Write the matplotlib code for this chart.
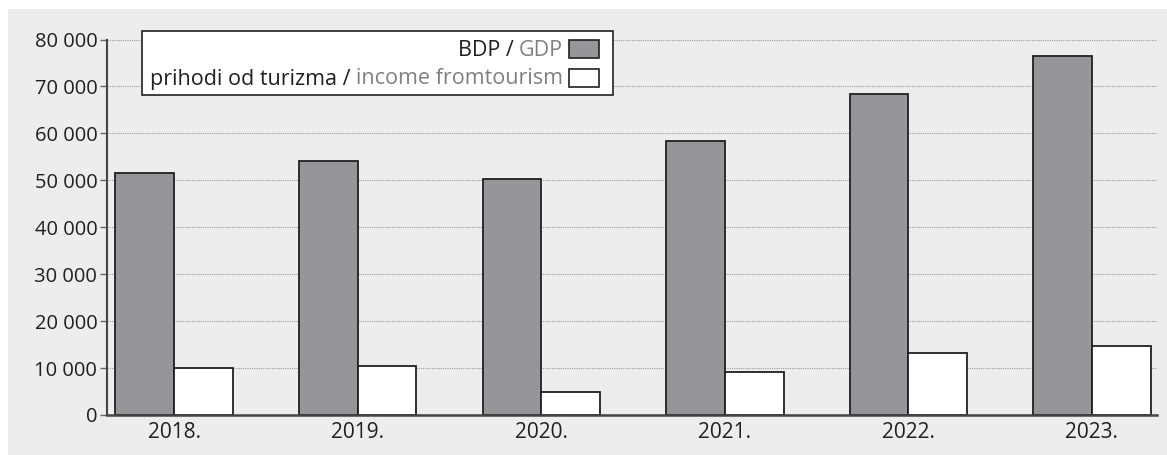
import numpy as np
import matplotlib
matplotlib.use('Agg')
import matplotlib.pyplot as plt
from matplotlib.patches import Rectangle
from matplotlib.text import Annotation
from matplotlib.ticker import FuncFormatter

plt.rcParams['font.family'] = ['Open Sans', 'DejaVu Sans']

# values
years = ['2018.', '2019.', '2020.', '2021.', '2022.', '2023.']
gdp = [51600, 54100, 50300, 58300, 68400, 76500]
tourism = [10100, 10500, 4800, 9200, 13150, 14600]

W, H = 1167, 455
bg = '#ededed'
bar_grey = '#95969a'
edge = '#231f20'
light_text = '#808080'

fig = plt.figure(figsize=(W / 100, H / 100), dpi=100)
fig.patch.set_facecolor('white')
# grey panel behind everything
fig.patches.append(Rectangle((8 / W, 0), 1, (H - 9) / H, transform=fig.transFigure,
                             facecolor=bg, edgecolor='none', zorder=-1))

ax = fig.add_axes([107 / W, 40 / H, (1157 - 107) / W, (415 - 39.5) / H])
ax.set_facecolor(bg)

x = np.arange(len(years))
w = 0.32
ax.bar(x - w / 2, gdp, width=w, color=bar_grey, edgecolor=edge, linewidth=1.3, zorder=3)
ax.bar(x + w / 2, tourism, width=w, color='white', edgecolor=edge, linewidth=1.3, zorder=3)

ax.set_xlim(-0.366, 5.355)
ax.set_ylim(0, 80000)
ax.set_yticks(np.arange(0, 80001, 10000))
ax.yaxis.set_major_formatter(FuncFormatter(lambda v, p: f'{int(v):,}'.replace(',', ' ')))
ax.set_xticks(x)
ax.set_xticklabels(years)

ax.grid(axis='y', linestyle=(0, (1, 1)), color='#9a9a9a', linewidth=0.8, zorder=1)
for s in ['top', 'right']:
    ax.spines[s].set_visible(False)
ax.spines['left'].set_color('#444444')
ax.spines['left'].set_linewidth(1.5)
ax.spines['bottom'].set_color('#444444')
ax.spines['bottom'].set_linewidth(1.8)
ax.spines['bottom'].set_zorder(4)

ax.tick_params(axis='y', length=5, width=1, color='#666666', labelsize=14.5, labelcolor=edge, pad=2)
ax.tick_params(axis='x', length=0, labelsize=15, labelcolor=edge, pad=5)


# hand-made legend so each label can be two colours
def px(xp, yp):
    return xp / W, 1 - yp / H


box_l, box_t, box_r, box_b = 141.5, 31, 613, 95
fig.patches.append(Rectangle(px(box_l, box_b), (box_r - box_l) / W, (box_b - box_t) / H,
                             transform=fig.transFigure, facecolor='white',
                             edgecolor=edge, linewidth=1.2, zorder=5))
rows = [('BDP /', 'GDP', bar_grey, 40, 58),
        ('prihodi od turizma /', 'income fromtourism', 'white', 69, 87)]
for black_part, grey_part, fc, top, bottom in rows:
    fig.patches.append(Rectangle(px(569, bottom), 30 / W, (bottom - top) / H,
                                 transform=fig.transFigure, facecolor=fc,
                                 edgecolor=edge, linewidth=1.2, zorder=6))
    t = fig.text(*px(563, (top + bottom) / 2 + 1), grey_part, ha='right', va='center',
                 fontsize=15.5, color=light_text, zorder=7)
    fig.add_artist(Annotation(black_part, xy=(0, 0), xycoords=t,
                              xytext=(-4, 0), textcoords='offset points',
                              ha='right', va='bottom', fontsize=15.5, color=edge,
                              zorder=7))

fig.savefig('out.png', dpi=100, facecolor=fig.get_facecolor())
